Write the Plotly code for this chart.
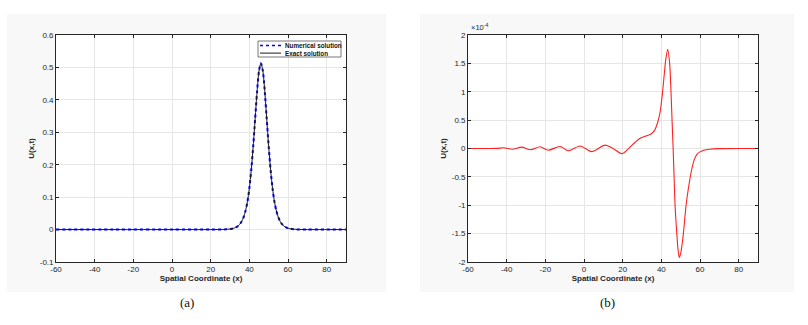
# plot.py

import plotly.graph_objects as go

# --- data -------------------------------------------------------------------

# (a) soliton profile U(x,t), numerical and exact solutions
x_sol = [-60, -30, 0, 20, 26, 28, 30, 31, 32, 33, 34, 35, 36, 37, 38, 39, 40,
         41, 42, 43, 44, 45, 46, 47, 48, 49, 50, 51, 52, 53, 54, 55, 56, 57,
         58, 59, 60, 61, 62, 64, 66, 70, 80, 90]
u_exact = [0, 0, 0, 0, 0.0003, 0.0007, 0.0018, 0.0028, 0.0043, 0.0067, 0.0103,
           0.016, 0.0246, 0.0377, 0.0573, 0.0856, 0.127, 0.184, 0.257, 0.341,
           0.425, 0.489, 0.513, 0.489, 0.425, 0.341, 0.257, 0.184, 0.127,
           0.0856, 0.0573, 0.0377, 0.0246, 0.016, 0.0103, 0.0067, 0.0043,
           0.0028, 0.0018, 0.0007, 0.0003, 0, 0, 0]
u_numerical = list(u_exact)

# (b) error, in units of 1e-4
x_err = [-60, -50, -45, -41.5, -37, -32.2, -27.6, -22.7, -18.5, -12.4, -8.1,
         -2, 4, 10.9, 15, 19.5, 22.5, 25.5, 29, 32, 34.5, 36.5, 38, 39.3, 40.5,
         41.5, 42.3, 43.3, 44.3, 45, 45.6, 46.1, 46.6, 47.1, 48, 48.7, 49.3,
         50, 50.7, 51.4, 52.8, 54, 55.7, 57, 58.5, 60, 62, 65, 70, 80, 90]
err = [0, 0, 0.002, 0.012, -0.012, 0.025, -0.022, 0.03, -0.03, 0.035, -0.04,
       0.045, -0.055, 0.06, 0.0, -0.09, -0.02, 0.08, 0.18, 0.22, 0.25, 0.32,
       0.45, 0.63, 0.95, 1.3, 1.57, 1.75, 1.5, 1.0, 0.45, 0.0, -0.5, -1.0,
       -1.5, -1.8, -1.92, -1.85, -1.7, -1.5, -1.0, -0.7, -0.37, -0.2, -0.1,
       -0.06, -0.03, -0.012, -0.003, 0, 0]
err_exponent = -4

x_ticks = [-60, -40, -20, 0, 20, 40, 60, 80]
y_ticks_a = [-0.1, 0, 0.1, 0.2, 0.3, 0.4, 0.5, 0.6]
y_ticks_b = [-2, -1.5, -1, -0.5, 0, 0.5, 1, 1.5, 2]
panel_labels = ["(a)", "(b)"]
legend_labels = ["Numerical solution", "Exact solution"]

# --- styling ----------------------------------------------------------------

W, H = 808, 325
FONT = "Liberation Sans"
AXIS_COLOR = "#262626"
GRID_COLOR = "#e6e6e6"
DOM_Y = [1 - 262 / H, 1 - 35 / H]
DOM_A = [56 / W, 346 / W]
DOM_B = [468 / W, 758 / W]
BLUE = "#0000ff"
BLACK = "#1a1a1a"


def px(x, y):
    """Pixel position -> paper coordinates."""
    return x / W, 1 - y / H


def _tick_text(vals):
    return [f"{v:g}" for v in vals]


def _axis(domain, anchor, tickvals, rng, title=None, standoff=4):
    ax = {
        "domain": domain,
        "anchor": anchor,
        "range": rng,
        "automargin": False,
        "tickmode": "array",
        "tickvals": tickvals,
        "ticktext": _tick_text(tickvals),
        "ticks": "inside",
        "ticklen": 3,
        "tickwidth": 0.6,
        "tickcolor": AXIS_COLOR,
        "showline": True,
        "linecolor": AXIS_COLOR,
        "linewidth": 0.7,
        "mirror": "ticks",
        "showgrid": True,
        "gridcolor": GRID_COLOR,
        "gridwidth": 0.6,
        "zeroline": False,
        "tickfont": {"family": FONT, "size": 8, "color": AXIS_COLOR},
    }
    if title:
        ax["title"] = {
            "text": f"<b>{title}</b>",
            "font": {"family": FONT, "size": 8, "color": AXIS_COLOR},
            "standoff": standoff,
        }
    return ax


fig = go.Figure()

# (a)
fig.add_trace(
    go.Scatter(
        x=x_sol, y=u_numerical, mode="lines", name=legend_labels[0],
        line={"color": BLUE, "width": 2, "dash": "dot", "shape": "spline",
              "smoothing": 0.8},
        xaxis="x", yaxis="y",
    )
)
fig.add_trace(
    go.Scatter(
        x=x_sol, y=u_exact, mode="lines", name=legend_labels[1],
        line={"color": BLACK, "width": 1, "shape": "spline",
              "smoothing": 0.8},
        xaxis="x", yaxis="y",
    )
)

# (b)
fig.add_trace(
    go.Scatter(
        x=x_err, y=err, mode="lines",
        line={"color": "#ff2020", "width": 1.1, "shape": "spline",
              "smoothing": 0.8},
        xaxis="x2", yaxis="y2",
    )
)

# faint grey figure panels, white axes areas on top
shapes = []
for x0, x1 in [(7, 386), (420, 794)]:
    shapes.append(
        {"type": "rect", "xref": "paper", "yref": "paper",
         "x0": x0 / W, "x1": x1 / W, "y0": 1 - 292 / H, "y1": 1 - 14 / H,
         "fillcolor": "#f8f8f8", "line": {"width": 0}, "layer": "below"}
    )
for dom in [DOM_A, DOM_B]:
    shapes.append(
        {"type": "rect", "xref": "paper", "yref": "paper",
         "x0": dom[0], "x1": dom[1], "y0": DOM_Y[0], "y1": DOM_Y[1],
         "fillcolor": "white", "line": {"width": 0}, "layer": "below"}
    )

# hand-built legend box, so it stays as compact as the original
lx0, ly0 = px(258, 41)
lx1, ly1 = px(341, 57)
shapes.append(
    {"type": "rect", "xref": "paper", "yref": "paper",
     "x0": lx0, "x1": lx1, "y0": ly1, "y1": ly0,
     "fillcolor": "white", "line": {"color": "#555", "width": 0.8}}
)
annotations = []
for i, (label, color, dash) in enumerate(
    zip(legend_labels, [BLUE, BLACK], ["dot", "solid"])
):
    row_y = 45.5 + i * 7.6
    sx0, sy = px(260, row_y)
    sx1, _ = px(281, row_y)
    shapes.append(
        {"type": "line", "xref": "paper", "yref": "paper",
         "x0": sx0, "x1": sx1, "y0": sy, "y1": sy,
         "line": {"color": color, "width": 1.3 if dash == "dot" else 1,
                  "dash": dash}}
    )
    tx, _ = px(282.5, row_y)
    annotations.append(
        {"text": f"<b>{label}</b>", "xref": "paper", "yref": "paper",
         "x": tx, "y": sy, "xanchor": "left", "yanchor": "middle",
         "showarrow": False,
         "font": {"family": FONT, "size": 6.3, "color": "#111"}}
    )

annotations.append(
    {"text": f"×10<sup>{err_exponent}</sup>", "xref": "paper", "yref": "paper",
     "x": DOM_B[0] + 0.001, "y": DOM_Y[1] + 0.002, "xanchor": "left",
     "yanchor": "bottom", "showarrow": False,
     "font": {"family": FONT, "size": 7.5, "color": AXIS_COLOR}}
)
for label, cx in zip(panel_labels, [187, 607]):
    x, y = px(cx, 302)
    annotations.append(
        {"text": label, "xref": "paper", "yref": "paper",
         "x": x, "y": y, "xanchor": "center", "yanchor": "middle",
         "showarrow": False,
         "font": {"family": "Liberation Serif", "size": 13, "color": "#111"}}
    )

fig.update_layout(
    width=W,
    height=H,
    margin={"l": 0, "r": 0, "t": 0, "b": 0},
    paper_bgcolor="white",
    plot_bgcolor="rgba(0,0,0,0)",
    xaxis=_axis(DOM_A, "y", x_ticks, [-60, 90], "Spatial Coordinate (x)", 0),
    yaxis=_axis(DOM_Y, "x", y_ticks_a, [-0.1, 0.6], "U(x,t)", 3),
    xaxis2=_axis(DOM_B, "y2", x_ticks, [-60, 90], "Spatial Coordinate (x)", 0),
    yaxis2=_axis(DOM_Y, "x2", y_ticks_b, [-2, 2], "U(x,t)", 3),
    shapes=shapes,
    annotations=annotations,
    showlegend=False,
)

# the page's default body margin would push the figure 8px off the origin
fig.write_html(
    "out.html",
    config={"displayModeBar": False},
    post_script="document.body.style.margin = '0';",
)
